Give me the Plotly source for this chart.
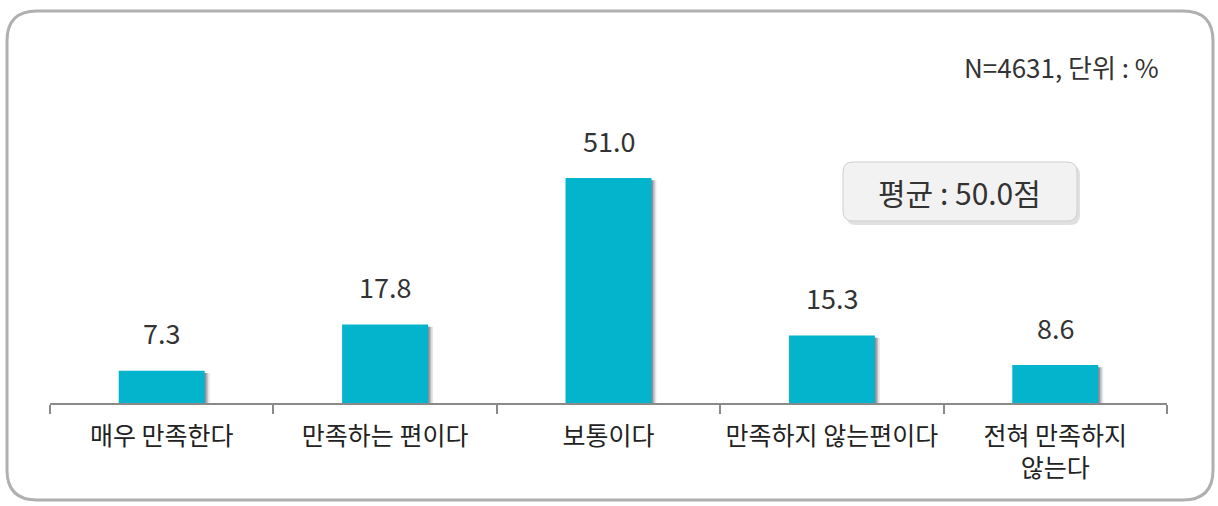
import plotly.graph_objects as go

categories = ["매우 만족한다", "만족하는 편이다", "보통이다", "만족하지 않는편이다", "전혀 만족하지<br>않는다"]
values = [7.3, 17.8, 51.0, 15.3, 8.6]
note_text = "N=4631, 단위 : %"
mean_text = "평균 : 50.0점"

W, H = 1218, 506
# plot area in pixels
L, R, T, B = 50, 1167, 100, 403
FONT = "Noto Sans CJK KR"
BAR = "#03b4cc"


def px_x(x):
    return (x - L) / (R - L)


def px_y(y):
    return (B - y) / (B - T)


def round_rect(x0, y0, x1, y1, r):
    # rounded rectangle path in paper units from pixel box
    rx = r / (R - L)
    ry = r / (B - T)
    a, b, c, d = px_x(x0), px_y(y0), px_x(x1), px_y(y1)
    return (f"M{a + rx},{b} L{c - rx},{b} Q{c},{b} {c},{b - ry} "
            f"L{c},{d + ry} Q{c},{d} {c - rx},{d} L{a + rx},{d} "
            f"Q{a},{d} {a},{d + ry} L{a},{b - ry} Q{a},{b} {a + rx},{b} Z")


fig = go.Figure()

# soft shadow behind bars
for off, alpha in [(0.022, 0.12), (0.014, 0.22), (0.007, 0.3)]:
    fig.add_trace(go.Bar(
        x=categories, y=[v - 0.5 for v in values], width=0.385, offset=-0.1925 + off,
        marker=dict(color=f"rgba(40,40,60,{alpha})", line=dict(width=0)),
        hoverinfo="skip", showlegend=False,
    ))
fig.add_trace(go.Bar(
    x=categories, y=values, width=0.385, offset=-0.1925,
    marker=dict(color=BAR, line=dict(width=0)),
    showlegend=False,
))

for c, v in zip(categories, values):
    fig.add_annotation(x=c, y=v, text=f"{v:.1f}", showarrow=False, yshift=38,
                       yanchor="middle", xanchor="center",
                       font=dict(size=27, color="#333333", family=FONT))

fig.add_annotation(xref="paper", yref="paper", x=px_x(1161), y=px_y(67),
                   xanchor="right", yanchor="middle", text=note_text, showarrow=False,
                   font=dict(size=26, color="#333333", family=FONT))

# outer frame
fig.add_shape(type="path", xref="paper", yref="paper", layer="below",
              path=round_rect(7, 11, 1213, 500, 30),
              line=dict(color="#b0b0b0", width=3), fillcolor="rgba(0,0,0,0)")

# mean box with shadow
fig.add_shape(type="path", xref="paper", yref="paper",
              path=round_rect(846, 165, 1080, 225, 10),
              line=dict(width=0), fillcolor="rgba(0,0,0,0.12)")
fig.add_shape(type="path", xref="paper", yref="paper",
              path=round_rect(843, 162, 1077, 221, 10),
              line=dict(color="#cfcfcf", width=1), fillcolor="#f2f2f2")
fig.add_annotation(xref="paper", yref="paper", x=px_x(959), y=px_y(192),
                   xanchor="center", yanchor="middle",
                   text=mean_text, showarrow=False,
                   font=dict(size=30, color="#333333", family=FONT))

fig.update_xaxes(
    type="category", tickson="boundaries", ticks="outside", ticklen=9,
    tickcolor="#8a8a8a", tickwidth=1.5, showline=True, linecolor="#8a8a8a",
    linewidth=1.5, showgrid=False, ticklabelstandoff=10, tickangle=0,
    automargin=False,
    tickfont=dict(size=25, color="#222222", family=FONT),
)
fig.update_yaxes(range=[0, (B - T) / (225 / 51.0)], visible=False,
                 showgrid=False, automargin=False)

fig.update_layout(
    width=W, height=H, barmode="overlay",
    margin=dict(l=L, r=W - R, t=T, b=H - B),
    paper_bgcolor="white", plot_bgcolor="white",
    font=dict(family=FONT),
)

fig.write_html("out.html", config={"displayModeBar": False},
               post_script="document.body.style.margin='0';")
